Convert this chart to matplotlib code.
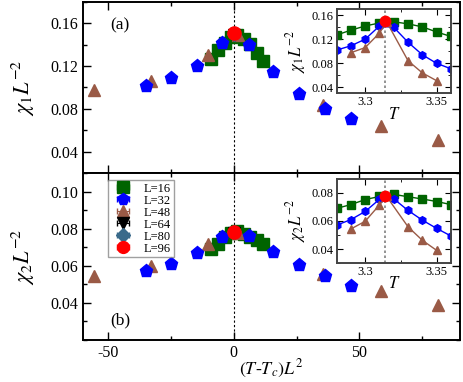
import numpy as np
import matplotlib
matplotlib.use("Agg")
import matplotlib.pyplot as plt
from matplotlib.ticker import MultipleLocator

plt.rcParams['font.family'] = ['Liberation Serif', 'DejaVu Serif']
plt.rcParams['mathtext.fontset'] = 'stix'
plt.rcParams['axes.unicode_minus'] = False

# temperatures used in the insets
T16 = [3.28, 3.29, 3.30, 3.31, 3.32, 3.33, 3.34, 3.35, 3.36]
T32 = [3.28, 3.29, 3.30, 3.31, 3.32, 3.33, 3.34, 3.35, 3.36]
T48 = [3.29, 3.30, 3.31, 3.315, 3.33, 3.34, 3.35]
Tc = 3.3142

# scaled temperature (T-Tc)L^2
x16 = [-9.0, -6.3, -3.6, -1.1, 1.5, 4.0, 6.6, 9.2, 11.7]
x32 = [-35.0, -24.9, -14.5, -4.5, 5.9, 15.5, 25.8, 36.2, 46.5]
x48 = [-55.7, -32.9, -10.2, 1.8, 35.7, 58.6, 81.4]

# chi_1 L^-2
c1_16 = [0.127, 0.135, 0.142, 0.147, 0.149, 0.1455, 0.1405, 0.132, 0.1245]
c1_32 = [0.1018, 0.109, 0.120, 0.142, 0.1397, 0.1148, 0.094, 0.0797, 0.0707]
c1_48 = [0.0975, 0.106, 0.1303, 0.149, 0.084, 0.0638, 0.0508]
c1_64 = [0.1495]
c1_80 = [0.150]
c1_96 = [0.1505]

# chi_2 L^-2
c2_16 = [0.069, 0.0717, 0.0753, 0.0775, 0.079, 0.0773, 0.0757, 0.0739, 0.0717]
c2_32 = [0.057, 0.061, 0.0668, 0.0755, 0.0758, 0.0675, 0.0606, 0.0547, 0.0493]
c2_48 = [0.0543, 0.0598, 0.0715, 0.0775, 0.0558, 0.0462, 0.039]
c2_64 = [0.0778]
c2_80 = [0.078]
c2_96 = [0.078]

green = '#006400'
blue = '#0000ff'
brown = '#9a5a46'
steel = '#3a6a8a'
red = '#ff0000'

fig = plt.figure(figsize=(4.63, 3.82), dpi=100)
ax1 = fig.add_axes([0.179, 0.547, 0.8145, 0.448])
ax2 = fig.add_axes([0.179, 0.110, 0.8145, 0.437])


def main_panel(ax, d16, d32, d48, d64, d80, d96):
    ax.axvline(0, color='black', ls=(0, (2, 2)), lw=0.8, zorder=1)
    ax.plot(x48, d48, '^', color=brown, ms=8.5, ls='none', zorder=3)
    ax.plot(x32, d32, 'p', color=blue, ms=9.5, ls='none', zorder=4)
    ax.plot(x16, d16, 's', color=green, ms=8.5, ls='none', zorder=2)
    ax.plot([0], d64, 'v', color='black', ms=8.5, ls='none', zorder=4)
    ax.plot([0], d80, 'D', color=steel, ms=7.5, ls='none', zorder=4)
    ax.plot([0], d96, 'o', color=red, ms=9.5, ls='none', zorder=5)
    ax.set_xlim(-60, 90)
    ax.xaxis.set_major_locator(MultipleLocator(50))
    ax.xaxis.set_minor_locator(MultipleLocator(25))
    ax.tick_params(which='both', direction='in', top=True, right=True,
                   labelsize=11.5)
    ax.tick_params(which='major', length=6, width=1)
    ax.tick_params(which='minor', length=3, width=1)
    for s in ax.spines.values():
        s.set_linewidth(1.4)


def inset(ax, d16, d32, d48, d96, ylim, ystep, label):
    ax.axvline(Tc, color='gray', ls=(0, (1.5, 1.5)), lw=1.2, zorder=1)
    ax.plot(T16, d16, 's-', color=green, ms=5.5, lw=1)
    ax.plot(T32, d32, 'h-', color=blue, ms=5.5, lw=1)
    ax.plot(T48, d48, '^-', color=brown, ms=5.5, lw=1)
    ax.plot([Tc], d96, 'o', color=red, ms=7.5)
    ax.set_xlim(3.28, 3.36)
    ax.set_ylim(*ylim)
    ax.set_xticks([3.30, 3.35])
    ax.set_xticklabels(['3.3', '3.35'])
    ax.xaxis.set_minor_locator(MultipleLocator(0.025))
    ax.yaxis.set_major_locator(MultipleLocator(ystep))
    ax.yaxis.set_minor_locator(MultipleLocator(ystep / 2))
    ax.tick_params(which='both', direction='in', top=True, right=True,
                   labelsize=9, pad=2)
    ax.tick_params(which='major', length=4)
    ax.tick_params(which='minor', length=2)
    for s in ax.spines.values():
        s.set_linewidth(1.4)
        s.set_color('#444444')
    ax.set_xlabel(r'$T$', fontsize=12, labelpad=0)
    ax.set_ylabel(label, fontsize=12, labelpad=0)
    ax.yaxis.set_label_coords(-0.25, 0.5)
    ax.xaxis.set_label_coords(0.5, -0.16)


main_panel(ax1, c1_16, c1_32, c1_48, c1_64, c1_80, c1_96)
ax1.set_ylim(0.02, 0.18)
ax1.set_yticks([0.04, 0.08, 0.12, 0.16])
ax1.yaxis.set_minor_locator(MultipleLocator(0.02))
ax1.tick_params(labelbottom=False)
ax1.set_ylabel(r'$\chi_1 L^{-2}$', fontsize=16)
ax1.yaxis.set_label_coords(-0.122, 0.5)
ax1.text(0.098, 0.86, '(a)', transform=ax1.transAxes, fontsize=12.5,
         ha='center', va='center')

main_panel(ax2, c2_16, c2_32, c2_48, c2_64, c2_80, c2_96)
ax2.set_ylim(0.02, 0.11)
ax2.set_yticks([0.04, 0.06, 0.08, 0.10])
ax2.yaxis.set_minor_locator(MultipleLocator(0.01))
ax2.set_ylabel(r'$\chi_2 L^{-2}$', fontsize=16)
ax2.yaxis.set_label_coords(-0.122, 0.5)
ax2.set_xlabel(r'$(T$-$T_c)L^2$', fontsize=13, labelpad=-2)
ax2.text(0.1, 0.12, '(b)', transform=ax2.transAxes, fontsize=12.5,
         ha='center', va='center')

# legend with errorbar-style handles
labels = ['L=16', 'L=32', 'L=48', 'L=64', 'L=80', 'L=96']
styles = [('s', green), ('p', blue), ('^', brown), ('v', 'black'),
          ('D', steel), ('o', red)]
handles = []
for (m, c) in styles:
    h = ax2.errorbar([np.nan], [np.nan], xerr=[0.0], fmt=m, color=c,
                     ms=8.5 if m != 'D' else 7, capsize=2.5, elinewidth=0.8)
    handles.append(h)
leg = ax2.legend(handles, labels, loc='upper left', bbox_to_anchor=(0.066, 0.958),
                 fontsize=9, frameon=True, fancybox=False, handlelength=2.0,
                 handletextpad=0.7, labelspacing=0.0, borderpad=0.2,
                 borderaxespad=0.0)
leg.get_frame().set_edgecolor('#888888')
leg.get_frame().set_linewidth(1.0)
leg.set_zorder(10)

in1 = fig.add_axes([0.727, 0.756, 0.247, 0.22])
inset(in1, c1_16, c1_32, c1_48, c1_96, (0.03, 0.17), 0.04, r'$\chi_1 L^{-2}$')
in2 = fig.add_axes([0.727, 0.3115, 0.247, 0.22])
inset(in2, c2_16, c2_32, c2_48, c2_96, (0.03, 0.09), 0.02, r'$\chi_2 L^{-2}$')

fig.savefig('out.png', dpi=100)
